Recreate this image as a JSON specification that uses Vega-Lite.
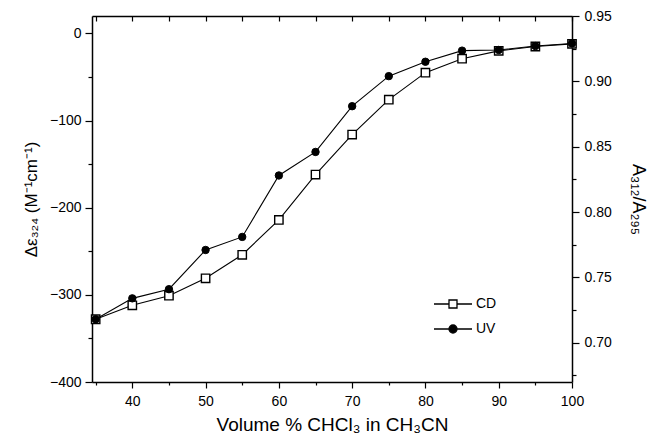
{
  "$schema": "https://vega.github.io/schema/vega-lite/v6.json",
  "width": 480,
  "height": 366,
  "autosize": {"type": "none"},
  "padding": {"left": 92, "top": 16, "right": 79, "bottom": 56},
  "background": "white",
  "config": {
    "view": {"stroke": null},
    "font": "Liberation Sans",
    "axis": {
      "grid": false,
      "domainColor": "black",
      "domainWidth": 1.5,
      "tickColor": "black",
      "tickWidth": 1.2,
      "labelColor": "black",
      "labelFont": "Liberation Sans",
      "labelFontSize": 14,
      "titleFont": "Liberation Sans",
      "titleColor": "black",
      "titleFontWeight": "normal",
      "labelOverlap": false,
      "labelFlush": false
    },
    "legend": {"labelFont": "Liberation Sans"}
  },
  "data": {
    "values": [
      {"x": 35, "series": "CD", "value": -328},
      {"x": 40, "series": "CD", "value": -312},
      {"x": 45, "series": "CD", "value": -301},
      {"x": 50, "series": "CD", "value": -281},
      {"x": 55, "series": "CD", "value": -254},
      {"x": 60, "series": "CD", "value": -214},
      {"x": 65, "series": "CD", "value": -162},
      {"x": 70, "series": "CD", "value": -116},
      {"x": 75, "series": "CD", "value": -76},
      {"x": 80, "series": "CD", "value": -45},
      {"x": 85, "series": "CD", "value": -29},
      {"x": 90, "series": "CD", "value": -20},
      {"x": 95, "series": "CD", "value": -15},
      {"x": 100, "series": "CD", "value": -12},
      {"x": 35, "series": "UV", "value": 0.718},
      {"x": 40, "series": "UV", "value": 0.734},
      {"x": 45, "series": "UV", "value": 0.741},
      {"x": 50, "series": "UV", "value": 0.771},
      {"x": 55, "series": "UV", "value": 0.781},
      {"x": 60, "series": "UV", "value": 0.828},
      {"x": 65, "series": "UV", "value": 0.846},
      {"x": 70, "series": "UV", "value": 0.881},
      {"x": 75, "series": "UV", "value": 0.904},
      {"x": 80, "series": "UV", "value": 0.915},
      {"x": 85, "series": "UV", "value": 0.9235},
      {"x": 90, "series": "UV", "value": 0.924},
      {"x": 95, "series": "UV", "value": 0.927},
      {"x": 100, "series": "UV", "value": 0.929}
    ]
  },
  "layer": [
    {
      "transform": [{"filter": "datum.series === 'CD'"}],
      "encoding": {
        "x": {
          "field": "x",
          "type": "quantitative",
          "scale": {"domain": [34.5, 100], "nice": false, "zero": false},
          "axis": {
            "orient": "bottom",
            "title": "Volume % CHCl₃ in CH₃CN",
            "titleFontSize": 19,
            "titlePadding": 7,
            "values": [35, 40, 45, 50, 55, 60, 65, 70, 75, 80, 85, 90, 95, 100],
            "labelExpr": "datum.value % 10 === 0 ? datum.label : ''",
            "tickSize": 6,
            "labelPadding": 6,
            "encoding": {"ticks": {"y2": {"value": {"expr": "datum.value % 10 === 0 ? 6 : 3"}}}}
          }
        },
        "y": {
          "field": "value",
          "type": "quantitative",
          "scale": {"domain": [-400, 20], "nice": false, "zero": false},
          "axis": {
            "orient": "left",
            "title": "Δε₃₂₄ (M⁻¹cm⁻¹)",
            "titleFontSize": 17,
            "titlePadding": 9,
            "values": [-400, -350, -300, -250, -200, -150, -100, -50, 0],
            "labelExpr": "datum.value % 100 === 0 ? datum.label : ''",
            "tickSize": 7,
            "labelPadding": 4,
            "encoding": {"ticks": {"x2": {"value": {"expr": "datum.value % 100 === 0 ? -7 : -4"}}}}
          }
        }
      },
      "layer": [
        {"mark": {"type": "line", "color": "black", "strokeWidth": 1.1}, "encoding": {}},
        {
          "mark": {"type": "point", "shape": "square", "size": 70, "stroke": "black", "strokeWidth": 1.4, "opacity": 1},
          "encoding": {
            "fill": {
              "field": "series",
              "type": "nominal",
              "scale": {"domain": ["CD", "UV"], "range": ["white", "black"]},
              "legend": {
                "orient": "none",
                "legendX": 354,
                "legendY": 281,
                "title": null,
                "padding": 0,
                "symbolSize": 64,
                "symbolStrokeColor": "black",
                "symbolStrokeWidth": 1.3,
                "labelFontSize": 14,
                "labelColor": "black",
                "labelOffset": 16,
                "rowPadding": 11,
                "encoding": {"symbols": {"shape": {"value": {"expr": "datum.value === 'CD' ? 'M-4.75,0L-1,0L-1,-1L1,-1L1,0L4.75,0L1,0L1,1L-1,1L-1,0Z' : 'M-4.75,0L-1,0A1,1 0 1,1 1,0L4.75,0L1,0A1,1 0 1,1 -1,0Z'"}}}}
              }
            }
          }
        }
      ]
    },
    {
      "transform": [{"filter": "datum.series === 'UV'"}],
      "encoding": {
        "x": {
          "field": "x",
          "type": "quantitative",
          "scale": {"domain": [34.5, 100], "nice": false, "zero": false},
          "axis": {
            "orient": "top",
            "title": null,
            "labels": false,
            "values": [35, 40, 45, 50, 55, 60, 65, 70, 75, 80, 85, 90, 95, 100],
            "tickSize": 5,
            "encoding": {"ticks": {"y2": {"value": 5}}}
          }
        },
        "y": {
          "field": "value",
          "type": "quantitative",
          "scale": {"domain": [0.67, 0.95], "nice": false, "zero": false},
          "axis": {
            "orient": "right",
            "title": "A₃₁₂/A₂₉₅",
            "titleFontSize": 18,
            "titlePadding": 17,
            "values": [0.675, 0.7, 0.725, 0.75, 0.775, 0.8, 0.825, 0.85, 0.875, 0.9, 0.925, 0.95],
            "format": ".2f",
            "labelExpr": "abs(datum.value * 20 - round(datum.value * 20)) < 0.01 ? datum.label : ''",
            "tickSize": 7,
            "labelPadding": 5,
            "encoding": {"ticks": {"x2": {"value": {"expr": "abs(datum.value * 20 - round(datum.value * 20)) < 0.01 ? 7 : 4"}}}}
          }
        }
      },
      "layer": [
        {"mark": {"type": "line", "color": "black", "strokeWidth": 1.1}, "encoding": {}},
        {
          "mark": {"type": "point", "shape": "circle", "size": 55, "stroke": "black", "strokeWidth": 1, "opacity": 1},
          "encoding": {
            "fill": {
              "field": "series",
              "type": "nominal",
              "scale": {"domain": ["CD", "UV"], "range": ["white", "black"]},
              "legend": null
            }
          }
        }
      ]
    }
  ],
  "resolve": {"scale": {"y": "independent"}, "axis": {"x": "independent"}}
}
